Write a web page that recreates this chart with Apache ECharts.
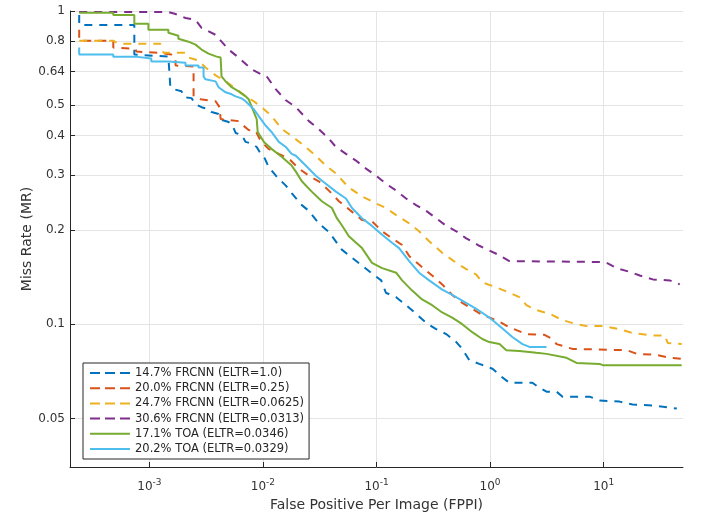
<!DOCTYPE html>
<html>
<head>
<meta charset="utf-8">
<script src="https://cdn.jsdelivr.net/npm/echarts@6/dist/echarts.min.js"></script>
<style>
html,body{margin:0;padding:0;background:#fff;}
#c{width:706px;height:517px;}
</style>
</head>
<body>
<div id="c"></div>
<script>
// ---- data: [FPPI, miss rate] ----
const seriesNames = [
  '14.7% FRCNN (ELTR=1.0)',
  '20.0% FRCNN (ELTR=0.25)',
  '24.7% FRCNN (ELTR=0.0625)',
  '30.6% FRCNN (ELTR=0.0313)',
  '17.1% TOA (ELTR=0.0346)',
  '20.2% TOA (ELTR=0.0329)'
];
const frcnnEltr1 = [
  [2.41e-4,0.971],[2.41e-4,0.903],[7.37e-4,0.903],[7.37e-4,0.726],[1.47e-3,0.715],[1.53e-3,0.715],[1.53e-3,0.571],
  [1.66e-3,0.562],[1.92e-3,0.554],[2.04e-3,0.530],[2.35e-3,0.527],[2.55e-3,0.504],[2.88e-3,0.493],[3.32e-3,0.486],
  [3.53e-3,0.476],[4.07e-3,0.469],[4.32e-3,0.449],[4.99e-3,0.442],[5.41e-3,0.430],[5.75e-3,0.408],[6.49e-3,0.402],
  [7.04e-3,0.382],[7.96e-3,0.377],[8.81e-3,0.368],[9.55e-3,0.350],[1.04e-2,0.338],[1.12e-2,0.318],[1.30e-2,0.298],
  [1.59e-2,0.277],[1.79e-2,0.262],[2.20e-2,0.240],[2.54e-2,0.230],[3.10e-2,0.210],[3.81e-2,0.197],[4.95e-2,0.173],
  [6.08e-2,0.163],[7.45e-2,0.154],[9.13e-2,0.145],[0.110,0.138],[0.121,0.126],[0.149,0.122],[0.182,0.115],
  [0.223,0.108],[0.274,0.101],[0.335,0.0964],[0.411,0.0930],[0.504,0.0877],[0.569,0.0834],[0.656,0.0768],
  [0.804,0.0747],[1.05,0.0721],[1.26,0.0680],[1.48,0.0650],[2.36,0.0650],[2.63,0.0632],[3.14,0.0609],[3.85,0.0609],
  [4.35,0.0587],[7.52,0.0587],[9.22,0.0571],[13.8,0.0566],[18.0,0.0554],[27.1,0.0550],[44.1,0.0538]
];
const frcnnEltr025 = [
  [2.41e-4,0.871],[2.41e-4,0.804],[4.81e-4,0.804],[4.81e-4,0.764],[7.52e-4,0.758],[7.68e-4,0.742],[1.20e-3,0.736],
  [1.56e-3,0.726],[1.70e-3,0.710],[1.70e-3,0.670],[2.45e-3,0.665],[2.45e-3,0.534],[2.82e-3,0.523],[3.83e-3,0.515],
  [4.15e-3,0.493],[4.24e-3,0.452],[6.11e-3,0.445],[6.76e-3,0.430],[7.48e-3,0.417],[8.63e-3,0.414],[9.55e-3,0.385],
  [1.12e-2,0.363],[1.38e-2,0.350],[1.69e-2,0.338],[2.07e-2,0.314],[2.54e-2,0.298],[3.10e-2,0.286],[3.81e-2,0.267],
  [4.67e-2,0.247],[5.71e-2,0.233],[7.45e-2,0.215],[9.13e-2,0.213],[0.112,0.198],[0.137,0.188],[0.168,0.179],
  [0.194,0.165],[0.237,0.155],[0.309,0.143],[0.379,0.134],[0.464,0.124],[0.569,0.117],[0.697,0.112],[0.854,0.107],
  [1.14,0.103],[1.48,0.0978],[2.09,0.0930],[3.01,0.0925],[3.55,0.0897],[3.85,0.0864],[5.32,0.0834],[16.0,0.0826],
  [19.6,0.0804],[29.4,0.0798],[38.3,0.0781],[48.7,0.0775]
];
const frcnnEltr00625 = [
  [2.41e-4,0.804],[4.81e-4,0.804],[5.32e-4,0.786],[1.25e-3,0.786],[1.33e-3,0.736],[2.08e-3,0.736],[2.21e-3,0.710],
  [2.71e-3,0.695],[3.12e-3,0.660],[3.83e-3,0.623],[4.69e-3,0.596],[5.75e-3,0.566],[7.04e-3,0.534],[8.29e-3,0.515],
  [9.75e-3,0.493],[1.19e-2,0.462],[1.47e-2,0.420],[1.79e-2,0.399],[2.38e-2,0.368],[2.92e-2,0.345],[3.58e-2,0.321],
  [4.39e-2,0.303],[5.71e-2,0.273],[7.45e-2,0.256],[9.90e-2,0.243],[0.121,0.235],[0.149,0.223],[0.194,0.210],
  [0.237,0.198],[0.291,0.184],[0.379,0.169],[0.504,0.157],[0.617,0.150],[0.756,0.144],[0.854,0.136],[1.14,0.131],
  [1.48,0.126],[1.81,0.122],[2.09,0.115],[2.56,0.111],[3.34,0.108],[4.35,0.103],[5.78,0.100],[7.08,0.0986],
  [9.80,0.0986],[13.8,0.0964],[18.0,0.0937],[27.1,0.0921],[34.6,0.0921],[36.7,0.0871],[48.7,0.0864]
];
const frcnnEltr00313 = [
  [2.41e-4,0.993],[1.47e-3,0.993],[1.70e-3,0.978],[2.08e-3,0.950],[2.55e-3,0.937],[2.88e-3,0.884],[3.83e-3,0.839],
  [4.32e-3,0.798],[4.99e-3,0.753],[6.11e-3,0.710],[7.96e-3,0.651],[9.75e-3,0.627],[1.08e-2,0.618],[1.30e-2,0.562],
  [1.59e-2,0.519],[1.95e-2,0.493],[2.54e-2,0.445],[3.10e-2,0.420],[3.81e-2,0.391],[4.39e-2,0.368],[5.38e-2,0.350],
  [6.59e-2,0.333],[8.08e-2,0.314],[9.90e-2,0.298],[0.121,0.281],[0.149,0.267],[0.182,0.252],[0.223,0.240],
  [0.274,0.230],[0.335,0.218],[0.411,0.206],[0.504,0.198],[0.617,0.188],[0.804,0.178],[0.985,0.172],[1.21,0.166],
  [1.48,0.159],[9.22,0.158],[10.6,0.157],[13.0,0.151],[16.9,0.147],[20.8,0.143],[27.1,0.139],[38.3,0.138],[46.8,0.134]
];
const toaEltr00346 = [
  [2.41e-4,0.988],[4.81e-4,0.988],[4.81e-4,0.971],[7.37e-4,0.971],[7.37e-4,0.910],[9.80e-4,0.910],[9.80e-4,0.871],
  [1.47e-3,0.871],[1.47e-3,0.852],[1.80e-3,0.834],[1.80e-3,0.815],[2.21e-3,0.798],[2.55e-3,0.781],[2.88e-3,0.753],
  [3.32e-3,0.731],[3.91e-3,0.715],[4.24e-3,0.710],[4.32e-3,0.618],[4.69e-3,0.596],[5.30e-3,0.571],[6.11e-3,0.554],
  [7.04e-3,0.534],[7.48e-3,0.523],[8.12e-3,0.486],[8.81e-3,0.452],[8.99e-3,0.411],[1.02e-2,0.382],[1.19e-2,0.363],
  [1.47e-2,0.342],[1.79e-2,0.321],[1.95e-2,0.307],[2.20e-2,0.286],[2.69e-2,0.265],[3.30e-2,0.247],[4.05e-2,0.235],
  [4.48e-2,0.218],[4.95e-2,0.207],[5.71e-2,0.191],[7.45e-2,0.175],[9.13e-2,0.157],[0.112,0.151],[0.149,0.146],
  [0.168,0.138],[0.206,0.128],[0.252,0.120],[0.309,0.115],[0.379,0.109],[0.464,0.105],[0.569,0.100],[0.697,0.0943],
  [0.854,0.0897],[0.985,0.0877],[1.21,0.0864],[1.39,0.0826],[1.81,0.0821],[2.56,0.0810],[3.14,0.0804],[4.71,0.0781],
  [5.78,0.0752],[9.22,0.0747],[9.80,0.0740],[48.7,0.0740]
];
const toaEltr00329 = [
  [2.41e-4,0.764],[2.41e-4,0.726],[4.81e-4,0.726],[4.81e-4,0.715],[7.52e-4,0.715],[7.52e-4,0.705],[1.04e-3,0.705],
  [1.04e-3,0.690],[1.47e-3,0.690],[1.47e-3,0.683],[2.08e-3,0.683],[2.08e-3,0.670],[2.71e-3,0.670],[2.71e-3,0.660],
  [3.00e-3,0.660],[3.00e-3,0.618],[3.12e-3,0.605],[3.83e-3,0.596],[4.07e-3,0.571],[4.69e-3,0.550],[5.30e-3,0.542],
  [5.75e-3,0.534],[6.49e-3,0.526],[7.04e-3,0.515],[7.48e-3,0.504],[8.29e-3,0.486],[9.17e-3,0.462],[1.06e-2,0.430],
  [1.19e-2,0.411],[1.38e-2,0.382],[1.59e-2,0.368],[1.79e-2,0.350],[1.95e-2,0.345],[2.38e-2,0.321],[2.92e-2,0.298],
  [3.58e-2,0.281],[4.39e-2,0.265],[5.38e-2,0.252],[6.08e-2,0.235],[7.45e-2,0.218],[9.13e-2,0.206],[0.112,0.193],
  [0.137,0.182],[0.158,0.175],[0.194,0.159],[0.237,0.146],[0.291,0.138],[0.379,0.129],[0.464,0.124],[0.569,0.119],
  [0.756,0.112],[0.985,0.105],[1.28,0.0971],[1.57,0.0910],[1.93,0.0864],[2.22,0.0846],[3.14,0.0846]
];
const xTickValues = [1e-3, 1e-2, 1e-1, 1, 10];
const yTickValues = [0.05, 0.1, 0.2, 0.3, 0.4, 0.5, 0.64, 0.8, 1];
const xRange = [2e-4, 50];
const yRange = [0.035, 1];

// ---- styles ----
const colors = ['#0072BD', '#D95319', '#EDB120', '#7E2F8E', '#77AC30', '#4DBEEE'];
const dashed = [true, true, true, true, false, false];
const allData = [frcnnEltr1, frcnnEltr025, frcnnEltr00625, frcnnEltr00313, toaEltr00346, toaEltr00329];
const FONT = 'DejaVu Sans';
const AX = '#262626';

const chart = echarts.init(document.getElementById('c'), null, {renderer: 'canvas'});
chart.setOption({
  animation: false,
  backgroundColor: '#ffffff',
  grid: {left: 70, right: 23, top: 11, bottom: 46, containLabel: false},
  xAxis: {
    type: 'log', logBase: 10, min: xRange[0], max: xRange[1],
    name: 'False Positive Per Image (FPPI)', nameLocation: 'middle', nameGap: 31, nameMoveOverlap: false,
    nameTextStyle: {fontFamily: FONT, fontSize: 14, color: '#333'},
    axisLine: {show: true, lineStyle: {color: AX, width: 1}},
    axisTick: {show: true, inside: true, length: 5, lineStyle: {color: AX}, customValues: xTickValues},
    axisLabel: {
      customValues: xTickValues, margin: 11, color: '#333', fontFamily: FONT, fontSize: 12,
      formatter: function (v) { const e = Math.round(Math.log10(v)); return '{b|10}{s|' + e + '}'; },
      rich: {b: {fontFamily: FONT, fontSize: 12, color: '#333'}, s: {fontFamily: FONT, fontSize: 9, color: '#333', padding: [0, 0, 8, 0]}}
    },
    splitLine: {show: true, lineStyle: {color: '#e4e4e4', width: 1}},
    minorTick: {show: false}
  },
  yAxis: {
    type: 'log', logBase: 10, min: yRange[0], max: yRange[1],
    name: 'Miss Rate (MR)', nameLocation: 'middle', nameGap: 36, nameRotate: 90, nameMoveOverlap: false,
    nameTextStyle: {fontFamily: FONT, fontSize: 14, color: '#333'},
    axisLine: {show: true, lineStyle: {color: AX, width: 1}},
    axisTick: {show: true, inside: true, length: 5, lineStyle: {color: AX}, customValues: yTickValues},
    axisLabel: {
      customValues: yTickValues, margin: 5, color: '#333', fontFamily: FONT, fontSize: 12,
      formatter: function (v) { return String(+(+v).toPrecision(6)); }
    },
    splitLine: {show: true, lineStyle: {color: '#e4e4e4', width: 1}}
  },
  legend: {
    orient: 'vertical', left: 83, top: 363,
    padding: [4, 5, 4, 6], itemWidth: 40, itemHeight: 12, itemGap: 3.2,
    backgroundColor: '#ffffff', borderColor: AX, borderWidth: 1,
    itemStyle: {opacity: 0, borderWidth: 0},
    textStyle: {fontFamily: FONT, fontSize: 11.5, color: '#262626', lineHeight: 12},
    data: seriesNames.map(function (n, i) {
      return dashed[i] ? {name: n, lineStyle: {type: [10, 5], width: 2}} : {name: n, lineStyle: {width: 2}};
    })
  },
  series: allData.map(function (d, i) {
    return {
      name: seriesNames[i], type: 'line', data: d, showSymbol: false, symbol: 'none',
      lineStyle: {color: colors[i], width: 2, type: dashed[i] ? [8, 7] : 'solid'},
      itemStyle: {color: colors[i]},
      clip: true
    };
  })
});
</script>
</body>
</html>
